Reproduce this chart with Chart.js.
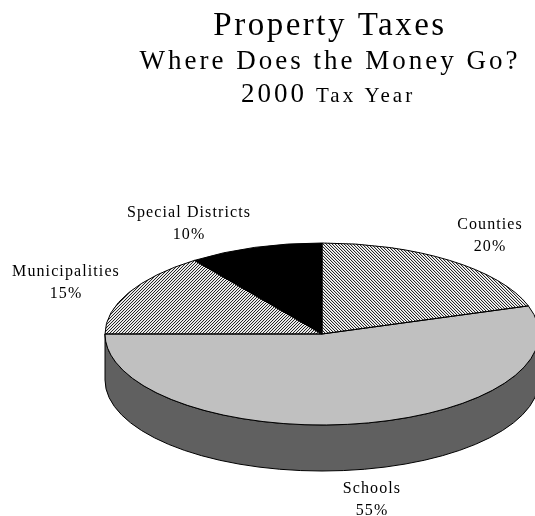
<!DOCTYPE html>
<html>
<head>
<meta charset="utf-8">
<title>Property Taxes</title>
<script src="https://cdn.jsdelivr.net/npm/chart.js@4"></script>
<style>
  html, body { margin: 0; padding: 0; background: #fff; }
  canvas { display: block; }
</style>
</head>
<body>
<canvas id="chart" width="535" height="516"></canvas>
<script>
const categories = ['Counties', 'Schools', 'Municipalities', 'Special Districts'];
const shares = [20, 55, 15, 10];

const squash = 91 / 217;   // tilt of the pie
const depth = 46;
const serif = '"Liberation Serif", serif';

function hatch(flip) {
  const n = 3;
  const c = document.createElement('canvas');
  c.width = c.height = n;
  const g = c.getContext('2d');
  g.fillStyle = '#fff';
  g.fillRect(0, 0, n, n);
  for (let i = 0; i < n; i++) {
    const x = flip ? n - 1 - i : i;
    g.fillStyle = '#1a1a1a';
    g.fillRect(x, i, 1, 1);
    g.fillStyle = '#e0e0e0';
    g.fillRect((x + 1) % n, i, 1, 1);
  }
  const p = g.createPattern(c, 'repeat');
  p.setTransform(new DOMMatrix().scale(1, 1 / squash));
  return p;
}

const sliceColors = [hatch(false), '#c0c0c0', hatch(true), '#000000'];

const tilted = {
  id: 'tilted',
  beforeDatasetsDraw(chart) {
    const ctx = chart.ctx;
    const arc = chart.getDatasetMeta(0).data[0];
    const rx = arc.outerRadius, ry = rx * squash;
    // side wall
    ctx.save();
    ctx.beginPath();
    ctx.ellipse(arc.x, arc.y, rx, ry, 0, 0, Math.PI);
    ctx.ellipse(arc.x, arc.y + depth, rx, ry, 0, Math.PI, 0, true);
    ctx.closePath();
    ctx.fillStyle = '#606060';
    ctx.fill();
    ctx.strokeStyle = '#000';
    ctx.lineWidth = 1;
    ctx.stroke();
    ctx.restore();
    // squash the slices
    ctx.save();
    ctx.translate(arc.x, arc.y);
    ctx.scale(1, squash);
    ctx.translate(-arc.x, -arc.y);
  },
  afterDatasetsDraw(chart) {
    const ctx = chart.ctx;
    ctx.restore();
    ctx.save();
    ctx.strokeStyle = '#000';
    ctx.lineWidth = 1;
    chart.getDatasetMeta(0).data.forEach(arc => {
      const rx = arc.outerRadius, ry = rx * squash;
      ctx.beginPath();
      ctx.moveTo(arc.x, arc.y);
      ctx.ellipse(arc.x, arc.y, rx, ry, 0, arc.startAngle, arc.endAngle);
      ctx.closePath();
      ctx.stroke();
    });
    ctx.restore();
  }
};

const sliceLabels = {
  id: 'sliceLabels',
  afterDraw(chart, args, opts) {
    const ctx = chart.ctx;
    ctx.save();
    ctx.fillStyle = '#000';
    ctx.textBaseline = 'alphabetic';
    ctx.textAlign = 'center';
    ctx.font = '16px ' + serif;
    ctx.letterSpacing = '1.1px';
    categories.forEach((name, i) => {
      const p = opts.at[i];
      ctx.fillText(name, p[0], p[1]);
      ctx.fillText(shares[i] + '%', p[0], p[1] + 22);
    });
    ctx.restore();
  }
};

const heading = {
  id: 'heading',
  afterDraw(chart) {
    const ctx = chart.ctx;
    ctx.save();
    ctx.fillStyle = '#000';
    ctx.textBaseline = 'alphabetic';
    ctx.textAlign = 'center';
    ctx.font = '33px ' + serif;
    ctx.letterSpacing = '2.5px';
    ctx.fillText('Property Taxes', 330, 35);
    ctx.font = '27px ' + serif;
    ctx.letterSpacing = '3px';
    ctx.fillText('Where Does the Money Go?', 330, 69);
    // last line has two sizes
    ctx.textAlign = 'left';
    ctx.font = '27px ' + serif;
    ctx.fillText('2000', 241, 102);
    ctx.font = '21px ' + serif;
    ctx.fillText('Tax Year', 316, 102);
    ctx.restore();
  }
};

new Chart(document.getElementById('chart').getContext('2d'), {
  type: 'pie',
  data: {
    labels: categories,
    datasets: [{
      data: shares,
      backgroundColor: sliceColors,
      borderWidth: 0
    }]
  },
  options: {
    responsive: false,
    animation: false,
    radius: 217,
    layout: { padding: { left: 109, right: 0, top: 152, bottom: 0 } },
    plugins: {
      legend: { display: false },
      tooltip: { enabled: false },
      sliceLabels: { at: [[490, 229], [372, 493], [66, 276], [189, 217]] }
    }
  },
  plugins: [tilted, sliceLabels, heading]
});
</script>
</body>
</html>
